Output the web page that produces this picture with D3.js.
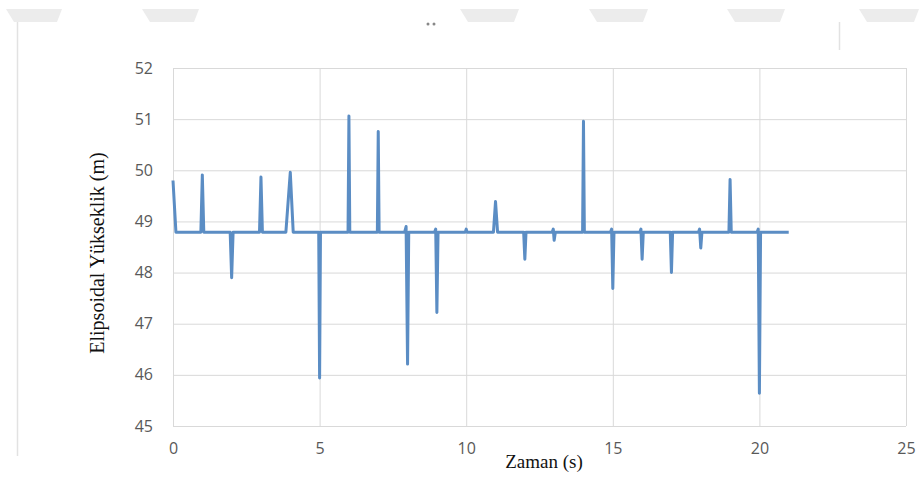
<!DOCTYPE html>
<meta charset="utf-8">
<style>
body { margin: 0; background: #fff; }
.grid line { stroke: #d9d9d9; stroke-width: 1px; }
.grid path { display: none; }
.tick text { fill: #595959; font-family: "Open Sans", sans-serif; font-size: 16px; }
.line { fill: none; stroke: #5b8dc4; stroke-width: 3px; stroke-linejoin: round; }
.title { font-family: "Liberation Serif", "Times New Roman", serif; fill: #111; }
</style>
<svg width="919" height="493"></svg>
<script src="https://cdn.jsdelivr.net/npm/d3@7"></script>
<script>

// time (s) and ellipsoidal height (m)
var zaman = [0, 0.1,
  0.95, 1, 1.05,
  1.95, 2, 2.05,
  2.95, 3, 3.05,
  3.85, 4, 4.1,
  4.97, 5, 5.03,
  5.97, 6, 6.03,
  6.97, 7, 7.03,
  7.9, 7.95, 8, 8.04,
  8.92, 8.96, 9, 9.04,
  9.97, 10, 10.03,
  10.93, 11, 11.07,
  11.96, 12, 12.04,
  12.93, 12.97, 13, 13.04,
  13.97, 14, 14.03,
  14.92, 14.96, 15, 15.04,
  15.92, 15.96, 16, 16.04,
  16.96, 17, 17.04,
  17.92, 17.96, 18, 18.04,
  18.96, 19, 19.04,
  19.92, 19.96, 20, 20.04,
  21];
var yukseklik = [49.8, 48.79,
  48.79, 49.91, 48.79,
  48.79, 47.9, 48.79,
  48.79, 49.87, 48.79,
  48.79, 49.96, 48.79,
  48.79, 45.94, 48.79,
  48.79, 51.06, 48.79,
  48.79, 50.76, 48.79,
  48.79, 48.9, 46.21, 48.79,
  48.79, 48.85, 47.22, 48.79,
  48.79, 48.85, 48.79,
  48.79, 49.39, 48.79,
  48.79, 48.26, 48.79,
  48.79, 48.85, 48.63, 48.79,
  48.79, 50.96, 48.79,
  48.79, 48.85, 47.69, 48.79,
  48.79, 48.85, 48.26, 48.79,
  48.79, 48.0, 48.79,
  48.79, 48.85, 48.48, 48.79,
  48.79, 49.82, 48.79,
  48.79, 48.85, 45.64, 48.79,
  48.79];

var xTicks = [0, 5, 10, 15, 20, 25];
var yTicks = [45, 46, 47, 48, 49, 50, 51, 52];

var data = zaman.map(function(t, i) { return {t: t, h: yukseklik[i]}; });

var svg = d3.select("svg"),
    margin = {top: 68, right: 13, bottom: 67, left: 173},
    width = svg.attr("width") - margin.left - margin.right,
    height = svg.attr("height") - margin.top - margin.bottom;

// page decoration around the figure
var tabs = [[6, 62], [142, 199], [460, 519], [589, 648], [727, 785], [859, 919]];
svg.selectAll(".tab")
  .data(tabs)
  .enter().append("path")
    .attr("fill", "#ececec")
    .attr("d", function(d) {
      return "M" + d[0] + ",9L" + d[1] + ",9L" + (d[1] - 5) + ",22L" + (d[0] + 8) + ",22Z";
    });
svg.append("line").attr("x1", 17.5).attr("x2", 17.5).attr("y1", 22).attr("y2", 456)
  .attr("stroke", "#e2e2e2").attr("stroke-width", 1.5);
svg.append("line").attr("x1", 839.5).attr("x2", 839.5).attr("y1", 22).attr("y2", 50)
  .attr("stroke", "#e2e2e2").attr("stroke-width", 1.5);
svg.append("circle").attr("cx", 428).attr("cy", 24).attr("r", 1.5).attr("fill", "#888");
svg.append("circle").attr("cx", 434).attr("cy", 24).attr("r", 1.5).attr("fill", "#888");

var g = svg.append("g").attr("transform", "translate(" + margin.left + "," + margin.top + ")");

var x = d3.scaleLinear().domain([0, 25]).range([0, width]),
    y = d3.scaleLinear().domain([45, 52]).range([height, 0]);

g.append("g")
  .attr("class", "grid")
  .call(d3.axisLeft(y).tickValues(yTicks).tickSize(-width).tickPadding(20).tickFormat(d3.format("d")))
  .call(function(s) { s.selectAll(".tick line").attr("x1", 0); });

g.append("g")
  .attr("class", "grid")
  .attr("transform", "translate(0," + height + ")")
  .call(d3.axisBottom(x).tickValues(xTicks).tickSize(-height).tickPadding(17).tickFormat(d3.format("d")));

var line = d3.line()
  .x(function(d) { return x(d.t); })
  .y(function(d) { return y(d.h); });

g.append("path")
  .datum(data)
  .attr("class", "line")
  .attr("d", line);

svg.append("text")
  .attr("class", "title")
  .attr("x", 544)
  .attr("y", 468)
  .attr("text-anchor", "middle")
  .style("font-size", "19px")
  .text("Zaman (s)");

svg.append("text")
  .attr("class", "title")
  .attr("transform", "translate(104,253) rotate(-90)")
  .attr("text-anchor", "middle")
  .style("font-size", "20px")
  .text("Elipsoidal Yükseklik (m)");

</script>
